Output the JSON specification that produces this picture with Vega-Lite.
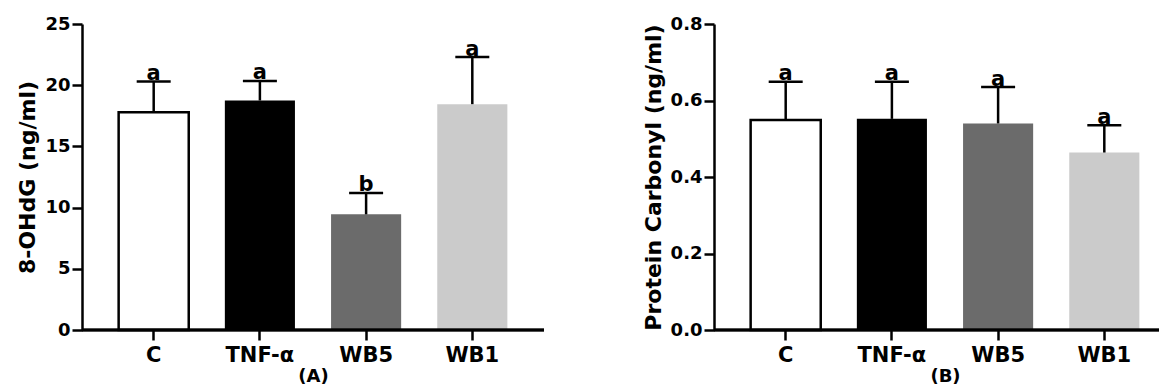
{
  "$schema": "https://vega.github.io/schema/vega-lite/v6.json",
  "padding": {"left": 16, "top": 15, "right": 1, "bottom": 0},
  "background": "white",
  "spacing": 96,
  "datasets": {
    "d": [
      {"panel": "A", "group": "C", "mean": 17.8, "upper": 20.3, "letter": "a"},
      {"panel": "A", "group": "TNF-α", "mean": 18.75, "upper": 20.35, "letter": "a"},
      {"panel": "A", "group": "WB5", "mean": 9.45, "upper": 11.2, "letter": "b"},
      {"panel": "A", "group": "WB1", "mean": 18.45, "upper": 22.3, "letter": "a"},
      {"panel": "B", "group": "C", "mean": 0.549, "upper": 0.649, "letter": "a"},
      {"panel": "B", "group": "TNF-α", "mean": 0.552, "upper": 0.649, "letter": "a"},
      {"panel": "B", "group": "WB5", "mean": 0.54, "upper": 0.635, "letter": "a"},
      {"panel": "B", "group": "WB1", "mean": 0.464, "upper": 0.535, "letter": "a"}
    ]
  },
  "config": {
    "view": {"stroke": null},
    "font": "DejaVu Sans",
    "axis": {
      "grid": false,
      "domainColor": "black",
      "domainWidth": 2.5,
      "tickColor": "black",
      "tickWidth": 2.5,
      "tickSize": 10,
      "labelColor": "black",
      "labelFontWeight": "bold",
      "titleColor": "black",
      "titleFontWeight": "bold",
      "labelFont": "DejaVu Sans",
      "titleFont": "DejaVu Sans"
    },
    "axisY": {"labelFontSize": 18, "labelPadding": 2, "titleFontSize": 22, "titlePadding": 5},
    "axisX": {"labelFontSize": 21, "labelPadding": 4, "titleFontSize": 18, "titlePadding": 2, "labelAngle": 0, "domain": false}
  },
  "hconcat": [
    {
      "width": 462,
      "height": 306,
      "data": {"name": "d"},
      "transform": [{"filter": "datum.panel === 'A'"}],
      "layer": [
        {
          "mark": {"type": "bar", "stroke": "black"},
          "encoding": {
            "x": {"field": "group", "type": "nominal", "sort": null, "scale": {"paddingInner": 0.34, "paddingOuter": 0.345}, "axis": {"title": "(A)"}},
            "y": {"field": "mean", "type": "quantitative", "scale": {"domain": [0, 25], "nice": false}, "axis": {"title": "8-OHdG (ng/ml)", "values": [0, 5, 10, 15, 20, 25]}},
            "fill": {"field": "group", "type": "nominal", "scale": {"domain": ["C", "TNF-α", "WB5", "WB1"], "range": ["#ffffff", "#000000", "#6b6b6b", "#cbcbcb"]}, "legend": null},
            "strokeWidth": {"condition": {"test": "datum.group === 'C'", "value": 2.5}, "value": 0}
          }
        },
        {
          "mark": {"type": "rule", "strokeWidth": 2.5, "color": "black"},
          "encoding": {
            "x": {"field": "group", "type": "nominal", "sort": null, "axis": {"title": "(A)"}},
            "y": {"field": "mean", "type": "quantitative", "axis": {"title": "8-OHdG (ng/ml)", "values": [0, 5, 10, 15, 20, 25]}},
            "y2": {"field": "upper"}
          }
        },
        {
          "mark": {"type": "tick", "thickness": 2.5, "size": 34, "color": "black", "opacity": 1},
          "encoding": {
            "x": {"field": "group", "type": "nominal", "sort": null, "axis": {"title": "(A)"}},
            "y": {"field": "upper", "type": "quantitative", "axis": {"title": "8-OHdG (ng/ml)", "values": [0, 5, 10, 15, 20, 25]}}
          }
        },
        {
          "mark": {"type": "text", "fontSize": 21, "fontWeight": "bold", "baseline": "alphabetic", "dy": -1.5, "color": "black"},
          "encoding": {
            "x": {"field": "group", "type": "nominal", "sort": null, "axis": {"title": "(A)"}},
            "y": {"field": "upper", "type": "quantitative", "axis": {"title": "8-OHdG (ng/ml)", "values": [0, 5, 10, 15, 20, 25]}},
            "text": {"field": "letter"}
          }
        },
        {
          "mark": {"type": "rule", "strokeWidth": 2.5, "color": "black"},
          "encoding": {
            "y": {"datum": 0, "type": "quantitative", "axis": {"title": "8-OHdG (ng/ml)", "values": [0, 5, 10, 15, 20, 25]}}
          }
        }
      ]
    },
    {
      "width": 448,
      "height": 306,
      "data": {"name": "d"},
      "transform": [{"filter": "datum.panel === 'B'"}],
      "layer": [
        {
          "mark": {"type": "bar", "stroke": "black"},
          "encoding": {
            "x": {"field": "group", "type": "nominal", "sort": null, "scale": {"paddingInner": 0.34, "paddingOuter": 0.345, "range": [0, 462]}, "axis": {"title": "(B)"}},
            "y": {"field": "mean", "type": "quantitative", "scale": {"domain": [0, 0.8], "nice": false}, "axis": {"title": "Protein Carbonyl (ng/ml)", "values": [0, 0.2, 0.4, 0.6, 0.8], "format": ".1f"}},
            "fill": {"field": "group", "type": "nominal", "scale": {"domain": ["C", "TNF-α", "WB5", "WB1"], "range": ["#ffffff", "#000000", "#6b6b6b", "#cbcbcb"]}, "legend": null},
            "strokeWidth": {"condition": {"test": "datum.group === 'C'", "value": 2.5}, "value": 0}
          }
        },
        {
          "mark": {"type": "rule", "strokeWidth": 2.5, "color": "black"},
          "encoding": {
            "x": {"field": "group", "type": "nominal", "sort": null, "axis": {"title": "(B)"}},
            "y": {"field": "mean", "type": "quantitative", "axis": {"title": "Protein Carbonyl (ng/ml)", "values": [0, 0.2, 0.4, 0.6, 0.8], "format": ".1f"}},
            "y2": {"field": "upper"}
          }
        },
        {
          "mark": {"type": "tick", "thickness": 2.5, "size": 34, "color": "black", "opacity": 1},
          "encoding": {
            "x": {"field": "group", "type": "nominal", "sort": null, "axis": {"title": "(B)"}},
            "y": {"field": "upper", "type": "quantitative", "axis": {"title": "Protein Carbonyl (ng/ml)", "values": [0, 0.2, 0.4, 0.6, 0.8], "format": ".1f"}}
          }
        },
        {
          "mark": {"type": "text", "fontSize": 21, "fontWeight": "bold", "baseline": "alphabetic", "dy": -1.5, "color": "black"},
          "encoding": {
            "x": {"field": "group", "type": "nominal", "sort": null, "axis": {"title": "(B)"}},
            "y": {"field": "upper", "type": "quantitative", "axis": {"title": "Protein Carbonyl (ng/ml)", "values": [0, 0.2, 0.4, 0.6, 0.8], "format": ".1f"}},
            "text": {"field": "letter"}
          }
        },
        {
          "mark": {"type": "rule", "strokeWidth": 2.5, "color": "black"},
          "encoding": {
            "y": {"datum": 0, "type": "quantitative", "axis": {"title": "Protein Carbonyl (ng/ml)", "values": [0, 0.2, 0.4, 0.6, 0.8], "format": ".1f"}}
          }
        }
      ]
    }
  ]
}
